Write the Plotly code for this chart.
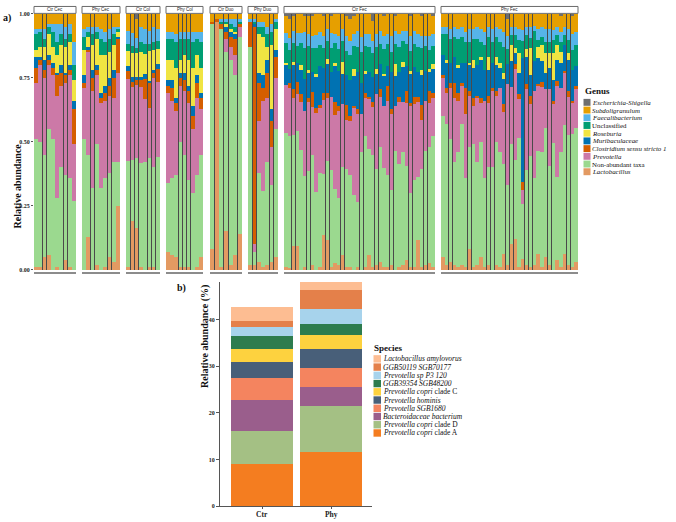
import plotly.graph_objects as go

W, H = 676, 522

# ---- panel a: genus relative abundance per sample (rows = genera, bottom -> top) ----
genera = ["Lactobacillus", "Non-abundant taxa", "Prevotella", "Clostridium sensu stricto 1",
          "Muribaculaceae", "Roseburia", "Unclassified", "Faecalibacterium",
          "Subdoligranulum", "Escherichia-Shigella"]
genus_labels = ["<i>Lactobacillus</i>", "Non-abundant taxa", "<i>Prevotella</i>",
                "<i>Clostridium sensu stricto 1</i>", "<i>Muribaculaceae</i>", "<i>Roseburia</i>",
                "Unclassified", "<i>Faecalibacterium</i>", "<i>Subdoligranulum</i>",
                "<i>Escherichia-Shigella</i>"]
genus_colors = ["#E39A62", "#9BD98F", "#CC79A7", "#D55E00", "#0072B2",
                "#F0E442", "#009E73", "#56B4E9", "#E69F00", "#6E6E6E"]

facet_names = ["Ctr Cec", "Phy Cec", "Ctr Col", "Phy Col", "Ctr Duo", "Phy Duo", "Ctr Fec", "Phy Fec"]

ctr_cec = [
    [1, 1, 5, 6, 0, 1, 0, 4, 1, 0],
    [50, 49, 40, 49, 51, 27, 40, 33, 35, 27],
    [22, 30, 30, 25, 25, 40, 32, 36, 40, 22],
    [6, 2, 3, 2, 3, 8, 5, 3, 2, 14],
    [4, 1, 4, 2, 2, 1, 3, 1, 2, 3],
    [3, 4, 5, 8, 6, 7, 8, 10, 9, 8],
    [6, 6, 3, 3, 6, 5, 4, 3, 3, 6],
    [2, 1, 4, 1, 3, 7, 4, 5, 4, 9],
    [6, 6, 6, 4, 4, 4, 4, 5, 4, 11],
    [0, 0, 0, 0, 0, 0, 0, 0, 0, 0],
]
phy_cec = [
    [0, 13, 0, 2, 0, 1, 5, 3, 25],
    [51, 32, 32, 47, 32, 35, 33, 39, 17],
    [20, 40, 38, 27, 33, 30, 30, 25, 35],
    [2, 1, 5, 2, 2, 3, 4, 8, 13],
    [3, 1, 3, 2, 2, 3, 3, 3, 1],
    [10, 4, 10, 10, 15, 12, 10, 10, 2],
    [5, 2, 4, 3, 6, 5, 5, 4, 1],
    [3, 2, 3, 2, 4, 4, 4, 3, 1],
    [6, 5, 5, 5, 6, 7, 6, 5, 5],
    [0, 0, 0, 0, 0, 0, 0, 0, 0],
]
ctr_col = [
    [1, 20, 17, 1, 0, 1, 1, 0],
    [43, 25, 29, 41, 43, 44, 39, 45],
    [33, 30, 30, 30, 25, 20, 35, 30],
    [3, 2, 2, 3, 8, 10, 2, 5],
    [2, 2, 1, 1, 2, 1, 1, 2],
    [6, 10, 10, 10, 8, 12, 8, 6],
    [3, 3, 2, 4, 4, 3, 3, 3],
    [5, 5, 4, 6, 6, 5, 6, 5],
    [7, 8, 8, 5, 6, 7, 5, 6],
    [0, 0, 2, 0, 0, 0, 0, 0],
]
phy_col = [
    [7, 6, 5, 1, 1, 1, 0, 1, 5],
    [27, 30, 32, 49, 44, 34, 30, 36, 40],
    [35, 30, 25, 22, 25, 30, 25, 30, 18],
    [3, 5, 3, 3, 4, 5, 5, 6, 4],
    [2, 3, 2, 2, 3, 2, 4, 3, 2],
    [8, 8, 12, 5, 7, 10, 15, 8, 10],
    [8, 8, 10, 8, 6, 8, 10, 6, 10],
    [3, 3, 3, 3, 3, 3, 4, 3, 4],
    [7, 7, 8, 7, 7, 7, 7, 7, 7],
    [0, 0, 0, 0, 0, 0, 0, 0, 0],
]
ctr_duo = [
    [8, 97, 1, 15, 2, 6, 14],
    [88, 0, 93, 70, 80, 70, 77],
    [0, 0, 0, 5, 5, 8, 4],
    [1, 1, 2, 3, 4, 6, 1],
    [0, 0, 0, 2, 2, 2, 0],
    [0, 0, 0, 1, 1, 1, 0],
    [0, 0, 1, 1, 2, 2, 1],
    [0, 0, 1, 1, 2, 3, 1],
    [3, 2, 2, 2, 2, 2, 2],
    [0, 0, 0, 0, 0, 0, 0],
]
phy_duo = [
    [2, 2, 3, 1, 2, 3, 5],
    [85, 5, 35, 30, 40, 30, 50],
    [0, 3, 20, 35, 25, 15, 20],
    [10, 85, 15, 5, 10, 10, 8],
    [0, 1, 4, 5, 5, 5, 3],
    [0, 0, 15, 15, 5, 25, 8],
    [0, 1, 3, 4, 5, 5, 3],
    [1, 1, 2, 2, 3, 3, 1],
    [2, 2, 3, 3, 5, 4, 2],
    [0, 0, 0, 0, 0, 0, 0],
]
ctr_fec = [
    [1, 1, 10, 10, 0, 1, 0, 2, 0, 1, 14, 12, 1, 3, 2, 6, 1, 1, 0, 1,
     0, 1, 6, 1, 2, 3, 1, 1, 2, 0, 1, 2, 4, 1, 1, 12, 1, 2, 3, 1],
    [55, 55, 46, 47, 49, 35, 40, 45, 30, 36, 25, 32, 40, 30, 27, 35, 40, 38, 30, 26,
     46, 53, 42, 46, 38, 46, 40, 37, 30, 48, 41, 45, 38, 30, 35, 25, 40, 46, 48, 53],
    [20, 20, 15, 15, 20, 25, 28, 20, 30, 25, 30, 25, 30, 30, 35, 25, 20, 22, 35, 35,
     15, 15, 20, 20, 30, 20, 25, 30, 30, 18, 25, 20, 25, 35, 30, 30, 20, 20, 18, 15],
    [0, 2, 4, 5, 3, 0, 2, 6, 2, 1, 3, 2, 0, 5, 2, 0, 6, 2, 1, 2,
     0, 2, 1, 2, 0, 3, 0, 6, 2, 0, 2, 0, 5, 1, 3, 2, 6, 0, 5, 2],
    [8, 6, 10, 8, 10, 12, 10, 8, 12, 15, 10, 12, 10, 15, 14, 12, 12, 15, 12, 15,
     12, 8, 10, 10, 8, 10, 12, 8, 15, 12, 10, 14, 10, 12, 12, 10, 12, 12, 8, 10],
    [1, 0, 1, 0, 2, 0, 1, 0, 1, 0, 0, 2, 0, 1, 0, 5, 0, 0, 3, 0,
     0, 1, 0, 0, 2, 0, 1, 0, 0, 5, 0, 2, 0, 1, 0, 0, 2, 0, 1, 2],
    [8, 8, 8, 7, 9, 12, 10, 10, 10, 8, 8, 7, 10, 8, 9, 8, 10, 10, 9, 10,
     12, 10, 10, 10, 9, 8, 10, 9, 8, 8, 10, 8, 9, 8, 9, 10, 9, 10, 8, 7],
    [4, 5, 5, 5, 4, 6, 5, 5, 5, 5, 5, 5, 6, 4, 5, 5, 6, 6, 5, 6,
     6, 5, 5, 5, 5, 5, 5, 4, 6, 5, 5, 4, 5, 6, 5, 5, 5, 4, 6, 5],
    [7, 8, 6, 8, 8, 6, 7, 8, 8, 7, 8, 6, 7, 8, 9, 6, 8, 9, 7, 7,
     9, 8, 8, 8, 8, 7, 8, 8, 9, 6, 8, 7, 7, 8, 7, 8, 8, 9, 9, 7],
    [1, 2, 1, 0, 0, 1, 1, 1, 0, 0, 1, 0, 1, 0, 0, 0, 1, 2, 1, 0,
     0, 0, 0, 3, 0, 0, 1, 0, 0, 1, 0, 0, 0, 1, 0, 0, 1, 0, 0, 1],
]
phy_fec = [
    [5, 2, 3, 2, 1, 2, 1, 8, 1, 2, 5, 1, 2, 0, 2, 1, 6, 2, 10, 12,
     1, 4, 2, 1, 2, 6, 1, 5, 2, 0, 4, 1, 6, 2, 1, 3],
    [55, 55, 48, 40, 45, 55, 35, 40, 48, 40, 45, 35, 38, 40, 48, 45, 35, 32, 38, 30,
     50, 20, 35, 42, 35, 40, 44, 50, 38, 48, 32, 45, 50, 50, 52, 52],
    [15, 12, 20, 25, 20, 15, 25, 20, 15, 25, 15, 30, 25, 30, 18, 25, 20, 40, 22, 35,
     15, 5, 30, 20, 35, 25, 25, 15, 30, 15, 35, 25, 20, 15, 12, 15],
    [1, 2, 2, 6, 3, 1, 10, 2, 3, 1, 2, 0, 3, 1, 2, 0, 3, 0, 0, 2,
     2, 3, 2, 3, 0, 1, 2, 0, 0, 1, 2, 0, 1, 2, 1, 1],
    [8, 10, 8, 10, 10, 8, 10, 10, 12, 12, 15, 12, 10, 10, 10, 8, 10, 8, 10, 4,
     8, 45, 10, 8, 12, 10, 8, 6, 8, 8, 8, 10, 10, 12, 12, 8],
    [0, 1, 0, 0, 1, 0, 0, 1, 3, 0, 1, 0, 5, 0, 3, 2, 2, 0, 6, 2,
     8, 0, 3, 10, 0, 4, 6, 8, 6, 10, 6, 4, 0, 3, 0, 0],
    [8, 10, 9, 8, 10, 10, 8, 8, 8, 10, 6, 10, 8, 8, 8, 8, 10, 6, 4, 5,
     5, 6, 5, 4, 12, 3, 3, 4, 4, 5, 4, 4, 4, 5, 8, 8],
    [3, 3, 4, 4, 4, 4, 4, 5, 4, 5, 5, 5, 4, 5, 4, 5, 6, 5, 3, 3,
     4, 4, 3, 4, 2, 4, 4, 5, 5, 4, 3, 4, 3, 4, 6, 5],
    [5, 5, 6, 5, 6, 5, 7, 6, 6, 5, 6, 7, 5, 6, 5, 6, 7, 7, 5, 5,
     6, 6, 5, 5, 5, 6, 5, 6, 6, 6, 5, 6, 5, 6, 7, 7],
    [0, 0, 0, 0, 0, 0, 0, 0, 0, 0, 0, 0, 0, 0, 0, 0, 0, 2, 0, 0,
     0, 0, 0, 0, 0, 0, 0, 0, 0, 0, 0, 1, 0, 0, 1, 0],
]
facet_data = [ctr_cec, phy_cec, ctr_col, phy_col, ctr_duo, phy_duo, ctr_fec, phy_fec]

# ---- panel b: mean relative abundance (%) of top species ----
groups = ["Ctr", "Phy"]
species = ["Prevotella copri clade A", "Prevotella copri clade D", "Bacteroidaceae bacterium",
           "Prevotella SGB1680", "Prevotella hominis", "Prevotella copri clade C",
           "GGB39354 SGB48200", "Prevotella sp P3 120", "GGB50119 SGB70177",
           "Lactobacillus amylovorus"]
species_labels = ["<i>Prevotella copri</i> clade A", "<i>Prevotella copri</i> clade D",
                  "<i>Bacteroidaceae bacterium</i>", "<i>Prevotella SGB1680</i>",
                  "<i>Prevotella hominis</i>", "<i>Prevotella copri</i> clade C",
                  "<i>GGB39354 SGB48200</i>", "<i>Prevotella sp P3 120</i>",
                  "<i>GGB50119 SGB70177</i>", "<i>Lactobacillus amylovorus</i>"]
ctr_species = [9.1, 7.0, 6.7, 4.6, 3.5, 2.7, 2.9, 1.9, 1.2, 3.0]
phy_species = [11.7, 9.7, 4.1, 4.1, 4.0, 3.0, 2.4, 3.2, 4.1, 1.8]
species_colors = ["#F47D20", "#A4C084", "#9A5E8C", "#F4845F", "#485F79",
                  "#FDD23F", "#2D7C4E", "#A7D3EC", "#E4804A", "#FDBD92"]

SERIF = "Liberation Serif"

# layout positions (pixels)
facet_left = [34, 82, 126, 166, 210, 248, 284, 441]
facet_right = [76, 120, 160, 203, 242, 278, 435, 578]


def fx(p):
    return p / W


def fy(p):
    return 1 - p / H


fig = go.Figure()
shapes = []
annotations = []
layout_axes = {}

for i, (name, rows) in enumerate(zip(facet_names, facet_data)):
    n = len(rows[0])
    totals = [sum(r[j] for r in rows) for j in range(n)]
    xname = "x" if i == 0 else f"x{i + 1}"
    for g, row in enumerate(rows):
        fig.add_trace(go.Bar(
            x=list(range(n)),
            y=[row[j] / totals[j] for j in range(n)],
            width=0.88,
            marker=dict(color=genus_colors[g], line=dict(width=0)),
            name=genera[g], showlegend=False,
            xaxis=xname, yaxis="y",
        ))
    layout_axes["xaxis" if i == 0 else f"xaxis{i + 1}"] = dict(
        domain=[fx(facet_left[i]), fx(facet_right[i])], anchor="y",
        range=[-0.5, n - 0.5], showticklabels=False, showgrid=False, zeroline=False,
        showline=True, linecolor="#8c8c8c", linewidth=1.5, ticks="",
    )
    dref = ("x" if i == 0 else f"x{i + 1}") + " domain"
    # dark backing so thin gaps read as sample separators
    shapes.append(dict(type="rect", xref=dref, yref="y", x0=0, x1=1, y0=0, y1=1,
                       fillcolor="#4a4a4a", line=dict(width=0), layer="below"))
    # strip
    shapes.append(dict(type="rect", xref=dref, yref="paper", x0=0, x1=1,
                       y0=fy(10.5), y1=fy(3.5), fillcolor="white",
                       line=dict(color="#6a6a6a", width=1)))
    annotations.append(dict(text=name, xref=dref, yref="paper", x=0.5, y=fy(7),
                            showarrow=False, xanchor="center", yanchor="middle",
                            font=dict(family="Arial", size=4.5, color="#222")))

# panel b bars
for s, lab in enumerate(species):
    fig.add_trace(go.Bar(
        x=groups, y=[ctr_species[s], phy_species[s]], width=0.9,
        marker=dict(color=species_colors[s], line=dict(width=0)),
        name=lab, showlegend=False, xaxis="x9", yaxis="y2",
    ))

layout_axes["xaxis9"] = dict(
    domain=[fx(220), fx(372)], anchor="y2", type="category", range=[-0.61, 1.59],
    showline=True, linecolor="#555", linewidth=1.2, ticks="outside", ticklen=2,
    tickcolor="#555", showgrid=False, zeroline=False, showticklabels=False,
)
layout_axes["yaxis2"] = dict(
    domain=[fy(509), fy(282)], anchor="x9", range=[0, 48.1],
    tickvals=[0, 10, 20, 30, 40], showline=True, linecolor="#555", linewidth=1.2,
    ticks="outside", ticklen=3, tickcolor="#555", showgrid=False, zeroline=False,
    tickfont=dict(family=SERIF, size=6, color="#222", weight="bold"),
)
layout_axes["yaxis"] = dict(
    domain=[fy(272), fy(11)], anchor="x", range=[-2 / 259, 1.0],
    tickvals=[0, 0.25, 0.5, 0.75, 1.0], ticktext=["0.00", "0.25", "0.50", "0.75", "1.00"],
    ticks="outside", ticklen=2, tickcolor="#555", showline=False, showgrid=False,
    zeroline=False, tickfont=dict(family=SERIF, size=6, color="#222", weight="bold"),
)

# group labels under panel b bars
for gname in groups:
    annotations.append(dict(text=f"<b>{gname}</b>", xref="x9", yref="paper", x=gname,
                            y=fy(517), showarrow=False, xanchor="center", yanchor="middle",
                            font=dict(family=SERIF, size=7.5, color="#222")))


def add_legend(title, labels, colors, x0, y_title, y_first, step, sw, size):
    annotations.append(dict(text=f"<b>{title}</b>", xref="paper", yref="paper",
                            x=fx(x0 - 1), y=fy(y_title), showarrow=False,
                            xanchor="left", yanchor="middle",
                            font=dict(family=SERIF, size=9, color="#111")))
    for k, (lab, col) in enumerate(zip(labels, colors)):
        yc = y_first + k * step
        shapes.append(dict(type="rect", xref="paper", yref="paper",
                           x0=fx(x0), x1=fx(x0 + sw), y0=fy(yc + sw / 2), y1=fy(yc - sw / 2),
                           fillcolor=col, line=dict(width=0)))
        annotations.append(dict(text=lab, xref="paper", yref="paper",
                                x=fx(x0 + sw + 0.5), y=fy(yc), showarrow=False,
                                xanchor="left", yanchor="middle", borderpad=0,
                                font=dict(family=SERIF, size=size, color="#111")))


add_legend("Genus", genus_labels[::-1], genus_colors[::-1], 583.5, 89, 100.5, 7.8, 7, 6.9)
add_legend("Species", species_labels[::-1], species_colors[::-1], 373.5, 349, 360, 8.33, 7.5, 7.5)

# titles and panel tags
annotations += [
    dict(text="<b>Relative abundance</b>", xref="paper", yref="paper", x=fx(10), y=fy(140),
         textangle=-90, showarrow=False, font=dict(family=SERIF, size=10, color="#111")),
    dict(text="<b>Relative abundance (%)</b>", xref="paper", yref="paper", x=fx(197), y=fy(392),
         textangle=-90, showarrow=False, font=dict(family=SERIF, size=10, color="#111")),
    dict(text="<b>a)</b>", xref="paper", yref="paper", x=fx(1), y=fy(7), xanchor="left",
         showarrow=False, font=dict(family=SERIF, size=10, color="#111")),
    dict(text="<b>b)</b>", xref="paper", yref="paper", x=fx(175), y=fy(288), xanchor="left",
         showarrow=False, font=dict(family=SERIF, size=10, color="#111")),
]

fig.update_layout(
    width=W, height=H, margin=dict(l=0, r=0, t=0, b=0),
    paper_bgcolor="white", plot_bgcolor="white",
    barmode="stack", showlegend=False,
    shapes=shapes, annotations=annotations,
    **layout_axes,
)

# drop the browser's default 8px body margin so the figure sits at the window corner
fig.write_html("out.html", config={"displayModeBar": False},
               post_script="document.body.style.margin = '0';")
